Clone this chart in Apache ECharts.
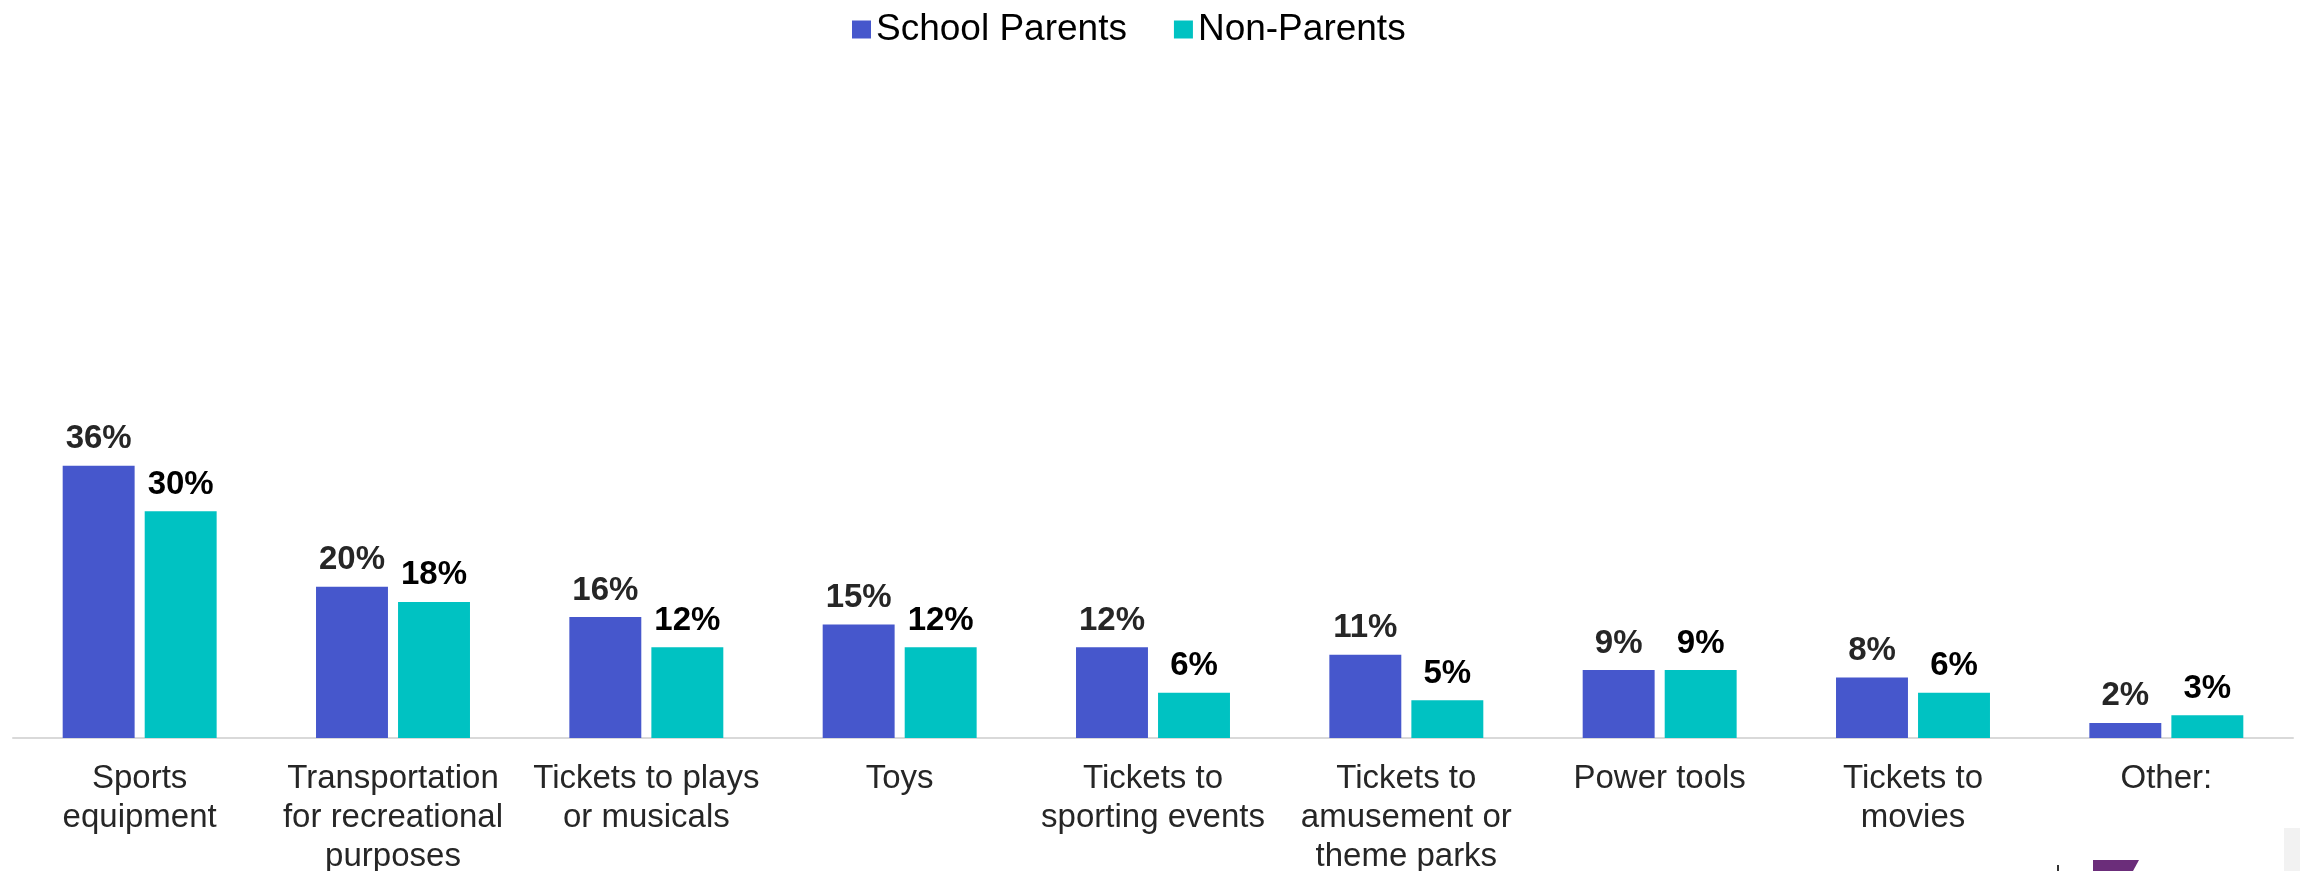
<!DOCTYPE html>
<html>
<head>
<meta charset="utf-8">
<script src="https://cdn.jsdelivr.net/npm/echarts@6/dist/echarts.min.js"></script>
<style>
html,body{margin:0;padding:0;background:#fff;}
#chart{width:2300px;height:871px;}
</style>
</head>
<body>
<div id="chart"></div>
<script>
const categories = [
  "Sports\nequipment",
  "Transportation\nfor recreational\npurposes",
  "Tickets to plays\nor musicals",
  "Toys",
  "Tickets to\nsporting events",
  "Tickets to\namusement or\ntheme parks",
  "Power tools",
  "Tickets to\nmovies",
  "Other:"
];
const seriesNames = ["School Parents", "Non-Parents"];
const schoolParents = [36, 20, 16, 15, 12, 11, 9, 8, 2];
const nonParents = [30, 18, 12, 12, 6, 5, 9, 6, 3];

const FONT = "'Liberation Sans', Arial, sans-serif";
const chart = echarts.init(document.getElementById('chart'), null, {renderer: 'canvas'});

function labelCfg(color) {
  return {
    show: true,
    position: 'top',
    distance: 10,
    formatter: p => p.value + '%',
    fontFamily: FONT,
    fontWeight: 'bold',
    fontSize: 33,
    color: color
  };
}

chart.setOption({
  animation: false,
  backgroundColor: '#ffffff',
  legend: {
    data: seriesNames,
    left: 847,
    top: 6,
    itemWidth: 19,
    itemHeight: 18,
    itemGap: 47,
    icon: 'rect',
    textStyle: {fontFamily: FONT, fontSize: 37, color: '#000000'}
  },
  grid: {left: 13, right: 7, top: 133, bottom: 133, containLabel: false, outerBoundsMode: 'none'},
  xAxis: {
    type: 'category',
    data: categories,
    axisLine: {show: true, lineStyle: {color: '#d9d9d9', width: 2}},
    axisTick: {show: false},
    axisLabel: {
      interval: 0,
      margin: 21,
      fontFamily: FONT,
      fontSize: 33,
      lineHeight: 39,
      color: '#262626',
      align: 'center'
    }
  },
  yAxis: {
    type: 'value',
    min: 0,
    max: 80,
    show: false,
    splitLine: {show: false}
  },
  series: [
    {
      name: seriesNames[0],
      type: 'bar',
      data: schoolParents,
      barWidth: '28.4%',
      barGap: '14%',
      itemStyle: {color: '#4657CC'},
      label: labelCfg('#262626')
    },
    {
      name: seriesNames[1],
      type: 'bar',
      data: nonParents,
      barWidth: '28.4%',
      barGap: '14%',
      itemStyle: {color: '#00C2C2'},
      label: labelCfg('#000000')
    }
  ],
  graphic: [
    {type: 'rect', shape: {x: 2284, y: 828, width: 16, height: 43}, style: {fill: '#f2f2f2'}, silent: true},
    {type: 'polygon', shape: {points: [[2093, 860], [2139, 860], [2133, 871], [2093, 871]]}, style: {fill: '#6B2D7A'}, silent: true},
    {type: 'rect', shape: {x: 2057, y: 865, width: 2, height: 6}, style: {fill: '#333'}, silent: true}
  ]
});
</script>
</body>
</html>
